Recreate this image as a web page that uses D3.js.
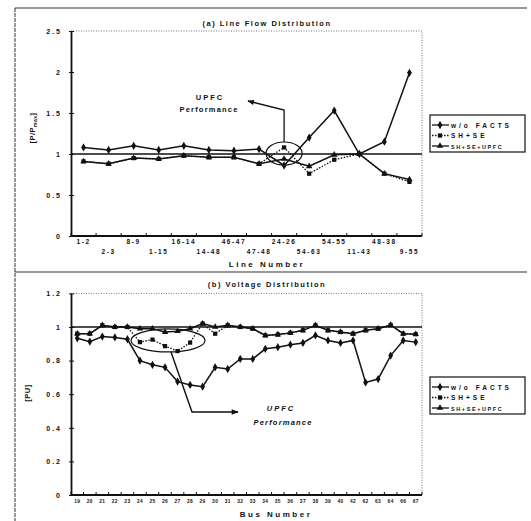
<!DOCTYPE html>
<html>
<head>
<meta charset="utf-8">
<script src="https://cdn.jsdelivr.net/npm/d3@7"></script>
<style>
  body { margin: 0; background: #fff; }
  text { font-family: "Liberation Sans", Arial, sans-serif; font-weight: bold; fill: #111; }
</style>
</head>
<body>
<div id="chart"></div>
<script>
// ---- data: (a) line flow ----
const lineLabels = ["1-2", "2-3", "8-9", "1-15", "16-14", "14-48", "46-47",
  "47-48", "24-26", "54-63", "54-55", "11-43", "48-38", "9-55"];
const flowNoFacts = [1.08, 1.05, 1.10, 1.05, 1.10, 1.05, 1.04, 1.06, 0.86, 1.20, 1.53, 1.00, 1.15, 1.99];
const flowShSe    = [0.91, 0.88, 0.95, 0.94, 0.98, 0.96, 0.96, 0.88, 1.08, 0.76, 0.93, 1.00, 0.76, 0.66];
const flowUpfc    = [0.91, 0.88, 0.95, 0.94, 0.98, 0.96, 0.96, 0.88, 0.94, 0.85, 0.99, 1.00, 0.76, 0.69];
const flowTicks = [0, 0.5, 1, 1.5, 2, 2.5];

// ---- data: (b) voltage ----
const busLabels = ["19", "20", "21", "22", "23", "24", "25", "26", "27", "28", "29", "30", "31", "32",
  "33", "34", "35", "36", "37", "38", "39", "40", "42", "62", "63", "64", "66", "67"];
const voltNoFacts = [0.933, 0.913, 0.943, 0.938, 0.927, 0.80, 0.775, 0.76, 0.675, 0.655, 0.645, 0.76, 0.75, 0.81,
  0.81, 0.87, 0.88, 0.895, 0.905, 0.95, 0.92, 0.905, 0.92, 0.67, 0.69, 0.83, 0.92, 0.91];
const voltShSe = [0.96, 0.96, 1.01, 1.00, 1.00, 0.91, 0.925, 0.886, 0.857, 0.907, 1.02, 0.96, 1.01, 1.00,
  0.99, 0.95, 0.955, 0.965, 0.98, 1.01, 0.98, 0.97, 0.96, 0.98, 0.99, 1.012, 0.96, 0.957];
const voltUpfc = [0.96, 0.96, 1.01, 1.00, 1.00, 0.99, 0.99, 0.97, 0.975, 0.99, 1.02, 1.00, 1.01, 1.00,
  0.99, 0.95, 0.955, 0.965, 0.98, 1.01, 0.98, 0.97, 0.96, 0.98, 0.99, 1.012, 0.96, 0.957];
const voltTicks = [0, 0.2, 0.4, 0.6, 0.8, 1, 1.2];

const seriesNames = ["w/o FACTS", "SH+SE", "SH+SE+UPFC"];

const W = 531, H = 521;
const svg = d3.select("#chart").append("svg")
  .attr("width", W).attr("height", H)
  .attr("viewBox", `0 0 ${W} ${H}`);

svg.append("rect").attr("width", W).attr("height", H).attr("fill", "#fff");

// arrow heads
const defs = svg.append("defs");
defs.append("marker")
  .attr("id", "arrow")
  .attr("viewBox", "0 0 10 10")
  .attr("refX", 9).attr("refY", 5)
  .attr("markerWidth", 7).attr("markerHeight", 5)
  .attr("orient", "auto")
  .append("path").attr("d", "M0,1 L10,5 L0,9 Z").attr("fill", "#111");

// outer frame
const frame = svg.append("g").attr("stroke", "#333").attr("fill", "none");
frame.append("line").attr("x1", 15).attr("x2", 527).attr("y1", 8).attr("y2", 8).attr("stroke-width", 1.2);
frame.append("line").attr("x1", 15).attr("x2", 15).attr("y1", 8).attr("y2", 521)
  .attr("stroke-dasharray", "4,1");
frame.append("line").attr("x1", 15).attr("x2", 527).attr("y1", 272).attr("y2", 272).attr("stroke-width", 1.2);

const symbols = [
  d3.symbol().type(d3.symbolDiamond).size(20),
  d3.symbol().type(d3.symbolSquare).size(18),
  d3.symbol().type(d3.symbolTriangle).size(18),
];
const dashes = [null, "1.5,1.5", null];

function drawPanel(p) {
  const left = 71, right = 422;
  const x = d3.scalePoint().domain(p.labels).range([left, right]).padding(0.5);
  const y = d3.scaleLinear().domain([0, p.max]).range([p.bottom, p.top]);
  const g = svg.append("g");

  // dotted top / right border
  g.append("path")
    .attr("d", `M${left},${p.top} H${right} V${p.bottom}`)
    .attr("fill", "none").attr("stroke", "#777")
    .attr("stroke-dasharray", "1,1.5");

  // y axis
  const yAxis = d3.axisLeft(y).tickValues(p.ticks).tickSize(-3).tickSizeOuter(0)
    .tickPadding(9).tickFormat(d => String(d));
  const ya = g.append("g").attr("transform", `translate(${left},0)`).call(yAxis);
  ya.select(".domain").attr("stroke", "#111").attr("stroke-width", 1.8);
  ya.selectAll(".tick line").attr("stroke", "#111").attr("x1", -2);
  ya.selectAll(".tick text")
    .attr("font-size", 7).attr("letter-spacing", 2)
    .style("font-family", '"Liberation Sans", Arial, sans-serif').style("font-weight", "bold");

  // x axis: baseline + ticks at category boundaries
  g.append("line").attr("x1", left).attr("x2", right)
    .attr("y1", p.bottom).attr("y2", p.bottom)
    .attr("stroke", "#111").attr("stroke-width", 1.8);
  const bounds = d3.range(p.labels.length + 1).map(k => left + k * x.step());
  g.selectAll(".xt").data(bounds).enter().append("line")
    .attr("x1", d => d).attr("x2", d => d)
    .attr("y1", p.bottom).attr("y2", p.bottom - 3)
    .attr("stroke", "#111");
  g.selectAll(".xl").data(p.labels).enter().append("text")
    .attr("x", d => x(d))
    .attr("y", (d, i) => p.stagger && i % 2 ? p.bottom + 18 : p.bottom + 8)
    .attr("text-anchor", "middle")
    .attr("font-size", p.tickFont).attr("letter-spacing", p.tickSpacing)
    .text(d => d);

  // reference line at 1
  g.append("line").attr("x1", left).attr("x2", right)
    .attr("y1", y(1)).attr("y2", y(1))
    .attr("stroke", "#111").attr("stroke-width", 1.3);

  // series
  const line = d3.line().x((d, i) => x(p.labels[i])).y(d => y(d));
  p.series.forEach((s, k) => {
    g.append("path").datum(s)
      .attr("d", line)
      .attr("fill", "none").attr("stroke", "#111")
      .attr("stroke-width", k === 1 ? 1.3 : 1.5)
      .attr("stroke-dasharray", dashes[k]);
    g.selectAll(`.m${k}`).data(s).enter().append("path")
      .attr("transform", (d, i) => `translate(${x(p.labels[i])},${y(d)})`)
      .attr("d", symbols[k]())
      .attr("fill", "#111");
  });

  // titles
  g.append("text").attr("x", 267).attr("y", p.titleY).attr("text-anchor", "middle")
    .attr("font-size", 7.5).attr("letter-spacing", 1.5).text(p.title);
  g.append("text").attr("x", p.xTitleX).attr("y", p.xTitleY).attr("text-anchor", "middle")
    .attr("font-size", 8).attr("letter-spacing", 2.5).text(p.xTitle);
  const yt = g.append("text")
    .attr("transform", `translate(${p.yTitleX},${p.yTitleY}) rotate(-90)`)
    .attr("text-anchor", "middle").attr("font-size", 7.5).attr("letter-spacing", 0.5);
  p.yTitle.forEach(t => {
    yt.append("tspan").attr("font-size", t.sub ? 5 : 7.5).attr("dy", t.sub ? 1.5 : (t.reset ? -1.5 : 0)).text(t.s);
  });

  // legend
  const lg = g.append("g").attr("transform", `translate(430,${p.legendY})`);
  lg.append("rect").attr("width", 95).attr("height", 37)
    .attr("fill", "#fff").attr("stroke", "#111").attr("stroke-width", 1.2);
  seriesNames.forEach((name, k) => {
    const ry = 10 + k * 10.5;
    lg.append("line").attr("x1", 2).attr("x2", 19).attr("y1", ry).attr("y2", ry)
      .attr("stroke", "#111").attr("stroke-width", 1.3).attr("stroke-dasharray", dashes[k]);
    lg.append("path").attr("transform", `translate(10,${ry})`).attr("d", symbols[k]()).attr("fill", "#111");
    lg.append("text").attr("x", 21).attr("y", ry + 2.5)
      .attr("font-size", k === 2 ? 5.5 : 6.5).attr("letter-spacing", k === 2 ? 1.6 : 3)
      .text(name);
  });

  return { x, y, g };
}

// ---- panel (a) ----
const a = drawPanel({
  labels: lineLabels, series: [flowNoFacts, flowShSe, flowUpfc],
  max: 2.5, ticks: flowTicks, top: 31, bottom: 236,
  stagger: true, tickFont: 6.5, tickSpacing: 1.6,
  title: "(a) Line Flow Distribution", titleY: 26,
  xTitle: "Line Number", xTitleX: 267, xTitleY: 267,
  yTitle: [{ s: "[P/P" }, { s: "max", sub: true }, { s: "]", reset: true }], yTitleX: 35, yTitleY: 128,
  legendY: 115,
});

// callout (a)
const cxA = a.x("24-26"), cyA = a.y(1) - 0.5;
a.g.append("ellipse").attr("cx", cxA).attr("cy", cyA).attr("rx", 18).attr("ry", 11.5)
  .attr("fill", "none").attr("stroke", "#111").attr("stroke-width", 1.2);
a.g.append("path")
  .attr("d", `M${cxA},${cyA - 11.5} V110 L248,101`)
  .attr("fill", "none").attr("stroke", "#111").attr("stroke-width", 1.3)
  .attr("marker-end", "url(#arrow)");
a.g.append("text").attr("x", 210).attr("y", 100).attr("text-anchor", "middle")
  .attr("font-size", 7.5).attr("letter-spacing", 2).text("UPFC");
a.g.append("text").attr("x", 209).attr("y", 112).attr("text-anchor", "middle")
  .attr("font-size", 7.5).attr("letter-spacing", 1.2).text("Performance");

// ---- panel (b) ----
const b = drawPanel({
  labels: busLabels, series: [voltNoFacts, voltShSe, voltUpfc],
  max: 1.2, ticks: voltTicks, top: 293.4, bottom: 495,
  stagger: false, tickFont: 4.8, tickSpacing: 0.4,
  title: "(b) Voltage Distribution", titleY: 287,
  xTitle: "Bus Number", xTitleX: 276, xTitleY: 517,
  yTitle: [{ s: "[PU]" }], yTitleX: 30, yTitleY: 393,
  legendY: 377,
});

// callout (b)
const cxB = b.x("26") + 3, cyB = b.y(0.92);
b.g.append("ellipse").attr("cx", cxB).attr("cy", cyB).attr("rx", 37).attr("ry", 11.5)
  .attr("fill", "none").attr("stroke", "#111").attr("stroke-width", 1.2);
b.g.append("path")
  .attr("d", `M171,${cyB + 11.5} L192,412 H238`)
  .attr("fill", "none").attr("stroke", "#111").attr("stroke-width", 1.4)
  .attr("marker-end", "url(#arrow)");
b.g.append("text").attr("x", 281).attr("y", 411).attr("text-anchor", "middle")
  .attr("font-style", "italic").attr("font-size", 7.5).attr("letter-spacing", 2).text("UPFC");
b.g.append("text").attr("x", 283).attr("y", 425).attr("text-anchor", "middle")
  .attr("font-style", "italic").attr("font-size", 7.5).attr("letter-spacing", 1.2).text("Performance");
</script>
</body>
</html>
